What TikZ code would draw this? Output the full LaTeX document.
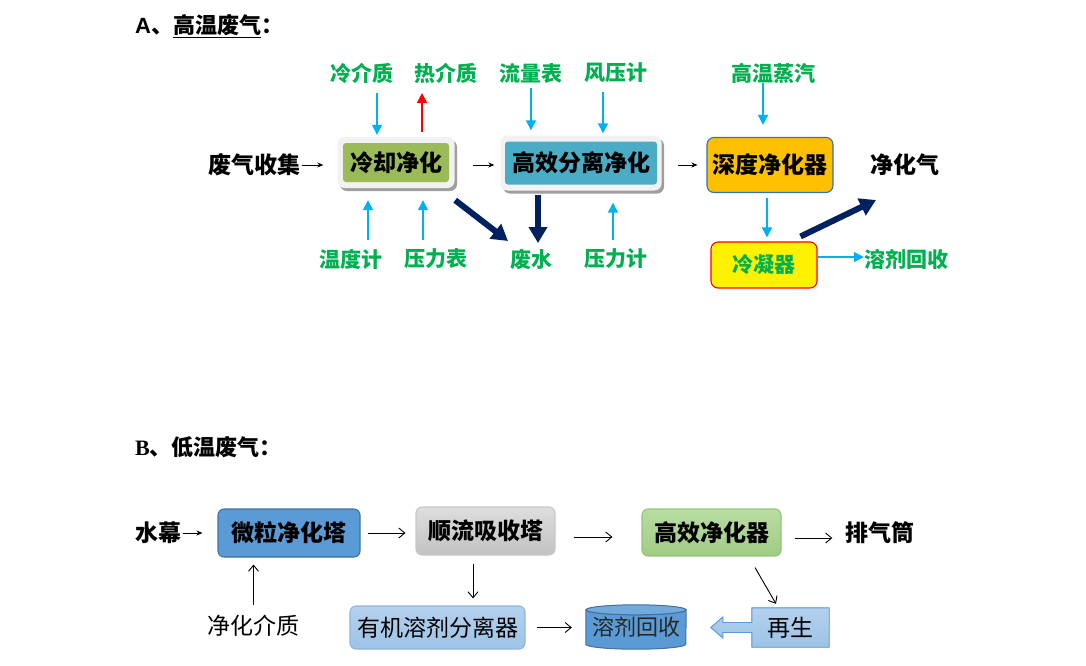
\documentclass[tikz,border=0pt]{standalone}
\usepackage{fontspec}
\setmainfont{Noto Sans CJK SC}
\newfontfamily\arialf{Liberation Sans}
\newfontfamily\timesf{Liberation Serif}
\usetikzlibrary{arrows.meta,calc,shadows,backgrounds}
\definecolor{lblgreen}{HTML}{00B050}
\definecolor{skyb}{HTML}{00B0F0}
\definecolor{navyc}{HTML}{002060}
\definecolor{greenbox}{HTML}{9BBB59}
\definecolor{tealbox}{HTML}{4BACC6}
\definecolor{orangebox}{HTML}{FFC000}
\definecolor{borderblue}{HTML}{2E75B6}
\definecolor{bluebox}{HTML}{5B9BD5}
\definecolor{bluedark}{HTML}{41719C}
\definecolor{lightblue}{HTML}{9DC3E6}
\definecolor{lightbluetop}{HTML}{B4D1EE}
\definecolor{lightblueborder}{HTML}{8EB4E0}
\definecolor{greenBtop}{HTML}{B9DCA2}
\definecolor{greenBbot}{HTML}{A0CC84}
\definecolor{greenBborder}{HTML}{93C476}
\begin{document}
\begin{tikzpicture}[x=1pt,y=-1pt,
  lbl/.style={inner sep=0pt, text=lblgreen, font=\bfseries\fontsize{21}{25}\selectfont},
  blk/.style={inner sep=0pt, font=\bfseries\fontsize{23}{27}\selectfont},
  blkr/.style={inner sep=0pt, font=\fontsize{23}{27}\selectfont},
  frameA/.style={fill=black!5, rounded corners=7pt, inner sep=0pt,
     drop shadow={shadow xshift=2.5pt, shadow yshift=-3pt, fill=black!38, opacity=1}},
  innerA/.style={rounded corners=3pt, inner sep=0pt, font=\bfseries\fontsize{23}{27}\selectfont},
  boxB/.style={rounded corners=6pt, inner sep=0pt, line width=1.1pt, font=\bfseries\fontsize{23}{27}\selectfont},
  barrow/.style={color=skyb, line width=1.4pt, -{Triangle[length=10pt,width=10pt]}},
  rarrow/.style={color=red, line width=1.4pt, -{Triangle[length=10pt,width=10pt]}},
  navyarrow/.style={color=navyc, line width=6pt, -{Triangle[length=16pt,width=18pt]}},
  tinyarrow/.style={color=black, line width=0.8pt, -{Stealth[length=6pt,width=5pt]}},
  barb/.style={color=black, line width=0.9pt, -{Straight Barb[length=6pt,width=10pt]}}
]
\useasboundingbox (0,0) rectangle (1086,665);

% ---------- Section A ----------
\node[anchor=west, inner sep=0pt, font=\bfseries\fontsize{22}{26}\selectfont] (ta) at (135,26)
  {{\arialf\bfseries A}、\underline{高温废气}：};

\node[lbl] (l1) at (362,73) {冷介质};
\node[lbl] (l2) at (446,73) {热介质};
\node[lbl] (l3) at (531,73) {流量表};
\node[lbl] (l4) at (616,73) {风压计};
\node[lbl] (l5) at (773,73) {高温蒸汽};

\node[blk] (src) at (254.5,165) {废气收集};

\node[frameA, minimum width=117pt, minimum height=51pt] (b1) at (396,162.5) {};
\node[innerA, fill=greenbox, minimum width=106pt, minimum height=39pt] (b1in) at (b1) {冷却净化};

\node[frameA, minimum width=161pt, minimum height=55pt] (b2) at (581,163) {};
\node[innerA, fill=tealbox, minimum width=152pt, minimum height=43pt] (b2in) at (b2) {高效分离净化};

\node[boxB, fill=orangebox, draw=borderblue, rounded corners=7pt, minimum width=126pt, minimum height=55pt] (b3) at (770,165) {深度净化器};

\node[blk] (out) at (905,165) {净化气};

\node[lbl] (t1) at (351,259) {温度计};
\node[lbl] (t2) at (436,259) {压力表};
\node[lbl] (w) at (531,259) {废水};
\node[lbl] (t4) at (616,259) {压力计};

\node[rounded corners=7pt, fill=yellow, draw=red, line width=1.1pt, inner sep=0pt,
  minimum width=106pt, minimum height=46pt, text=lblgreen,
  font=\bfseries\fontsize{21}{25}\selectfont] (b4) at (764,265) {冷凝器};
\node[lbl] (rec) at (906,259) {溶剂回收};

% connectors A
\draw[tinyarrow, shorten <=1pt, shorten >=14pt] (src.east) -- (src.east -| b1.west);
\draw[tinyarrow, shorten <=18pt, shorten >=6pt] ($(b1.east)+(0,2.5)$) -- ($(b1.east -| b2.west)+(0,2.5)$);
\draw[tinyarrow, shorten <=16pt, shorten >=9pt] ($(b2.east)+(0,2)$) -- ($(b2.east -| b3.west)+(0,2)$);

\draw[barrow] ($(l1)+(15,20)$) -- ($(b1.north)+(-19,-2)$);
\draw[rarrow] ($(b1.north)+(26,-5)$) -- ($(l2)+(-24,20)$);
\draw[barrow] ($(l3)+(0,15)$) -- ($(b2.north)+(-50,-5)$);
\draw[barrow] ($(l4)+(-13,19)$) -- ($(b2.north)+(22,-2)$);
\draw[barrow] ($(l5)+(-10,10)$) -- ($(b3.north)+(-7,-12)$);

\draw[barrow] ($(t1)+(17,-19)$) -- ($(b1.south)+(-28,12)$);
\draw[barrow] ($(t2)+(-13,-19)$) -- ($(b1.south)+(27,12)$);
\draw[barrow] ($(t4)+(-3,-19)$) -- ($(b2.south)+(32,12)$);

\draw[navyarrow] ($(b1.south east)+(0.5,12)$) -- ($(w)+(-23,-18)$);
\draw[navyarrow] ($(b2.south)+(-43,4.5)$) -- ($(w)+(7,-16)$);

\draw[barrow] ($(b3.south)+(-3,4.5)$) -- ($(b4.north)+(3,-4)$);
\draw[barrow] ($(b4.east)+(0,-8)$) -- ($(rec.west)+(0,-2)$);
\draw[navyarrow] ($(b4.north east)+(-17,-5)$) -- ($(out)+(-29,35)$);

% ---------- Section B ----------
\node[anchor=west, inner sep=0pt, font=\bfseries\fontsize{22}{26}\selectfont] (tb) at (135,447)
  {{\timesf\bfseries B}、低温废气：};

\node[blk] (water) at (158.5,533) {水幕};
\node[boxB, fill=bluebox, draw=bluedark, minimum width=142pt, minimum height=48pt] (p1) at (289,533) {微粒净化塔};
\node[boxB, top color=black!13, bottom color=black!24, draw=black!22, minimum width=139pt, minimum height=48pt] (p2) at (485.5,531) {顺流吸收塔};
\node[boxB, top color=greenBtop, bottom color=greenBbot, draw=greenBborder, minimum width=139pt, minimum height=47pt] (p3) at (711.5,532.5) {高效净化器};
\node[blk] (ex) at (880,533) {排气筒};

\node[blkr] (med) at (253.5,626) {净化介质};
\node[boxB, top color=lightbluetop, bottom color=lightblue, draw=lightblueborder, font=\fontsize{23}{27}\selectfont,
  minimum width=175pt, minimum height=43pt] (sep) at (437.5,627.5) {有机溶剂分离器};
\node[inner sep=0pt, minimum width=100pt, minimum height=44pt, text=black!85,
  font=\fontsize{22}{26}\selectfont] (cyl) at (636,627) {溶剂回收};
\node[inner sep=0pt, minimum width=77pt, minimum height=39pt,
  font=\fontsize{23}{27}\selectfont] (regen) at (790.5,627.5) {再生};

\begin{scope}[on background layer]
  \filldraw[fill=bluebox, draw=bluedark, line width=1pt]
    ($(cyl.north west)+(0,5)$) -- ($(cyl.south west)+(0,-5)$)
    arc[start angle=180, end angle=360, x radius=50pt, y radius=5pt]
    -- ($(cyl.north east)+(0,5)$)
    arc[start angle=0, end angle=-180, x radius=50pt, y radius=5pt] -- cycle;
  \filldraw[fill=bluebox!85!white, draw=bluedark, line width=1pt]
    ($(cyl.north)+(0,5)$) ellipse[x radius=50pt, y radius=5pt];
  \filldraw[top color=lightbluetop, bottom color=lightblue, draw=bluebox, line width=0.9pt]
    (regen.north east) -- (regen.north west) -- ($(regen.west)+(0,-5)$)
    -- ($(regen.west)+(-29,-5)$) -- ($(regen.west)+(-29,-10.5)$)
    -- ($(regen.west)+(-41,0)$) -- ($(regen.west)+(-29,10.5)$)
    -- ($(regen.west)+(-29,5)$) -- ($(regen.west)+(0,5)$)
    -- (regen.south west) -- (regen.south east) -- cycle;
\end{scope}

% connectors B
\draw[tinyarrow, shorten <=1pt, shorten >=15pt] (water.east) -- (water.east -| p1.west);
\draw[barb, shorten <=7pt, shorten >=10pt] (p1.east) -- (p1.east -| p2.west);
\draw[barb, shorten <=18pt, shorten >=29pt] ($(p2.east)+(0,6)$) -- ($(p2.east -| p3.west)+(0,6)$);
\draw[barb, shorten <=13pt, shorten >=13pt] ($(p3.east)+(0,5.5)$) -- ($(p3.east -| ex.west)+(0,5.5)$);
\draw[barb] ($(med)+(0,-21)$) -- ($(p1.south -| med)+(0,7)$);
\draw[barb] ($(p2.south)+(-12.5,8)$) -- ($(sep.north)+(35.5,-7)$);
\draw[barb, shorten <=11pt, shorten >=14pt] (sep.east) -- (sep.east -| cyl.west);
\draw[barb] ($(p3.south)+(43.5,11)$) -- ($(regen.north)+(-14.5,-4)$);
\end{tikzpicture}
\end{document}
